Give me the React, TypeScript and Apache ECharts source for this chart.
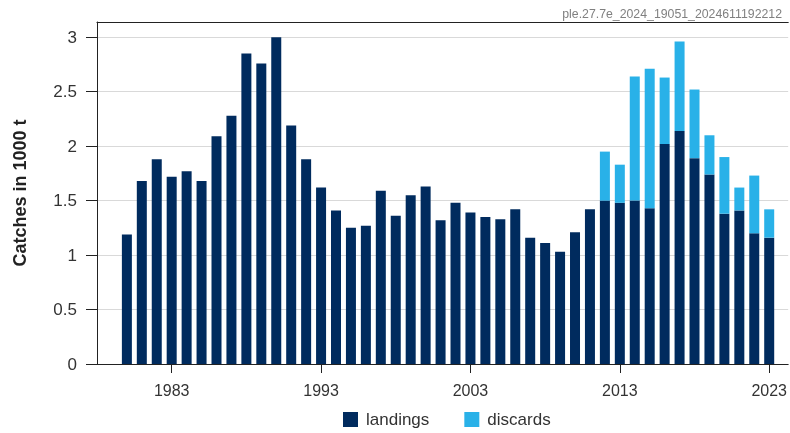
import React, { useEffect, useRef } from "react";
import * as echarts from "echarts";

const years = [
  1980, 1981, 1982, 1983, 1984, 1985, 1986, 1987, 1988, 1989,
  1990, 1991, 1992, 1993, 1994, 1995, 1996, 1997, 1998, 1999,
  2000, 2001, 2002, 2003, 2004, 2005, 2006, 2007, 2008, 2009,
  2010, 2011, 2012, 2013, 2014, 2015, 2016, 2017, 2018, 2019,
  2020, 2021, 2022, 2023,
];

const landings = [
  1.19, 1.68, 1.88, 1.72, 1.77, 1.68, 2.09, 2.28, 2.85, 2.76,
  3.0, 2.19, 1.88, 1.62, 1.41, 1.25, 1.27, 1.59, 1.36, 1.55,
  1.63, 1.32, 1.48, 1.39, 1.35, 1.33, 1.42, 1.16, 1.11, 1.03,
  1.21, 1.42, 1.5, 1.48, 1.5, 1.43, 2.02, 2.14, 1.89, 1.74,
  1.38, 1.41, 1.2, 1.16,
];

const discards: (number | null)[] = [
  null, null, null, null, null, null, null, null, null, null,
  null, null, null, null, null, null, null, null, null, null,
  null, null, null, null, null, null, null, null, null, null,
  null, null, 0.45, 0.35, 1.14, 1.28, 0.61, 0.82, 0.63, 0.36,
  0.52, 0.21, 0.53, 0.26,
];

const xTickYears = [1983, 1993, 2003, 2013, 2023];
const yTicks = [0, 0.5, 1, 1.5, 2, 2.5, 3];
const stamp = "ple.27.7e_2024_19051_2024611192212";

const FONT = "'Liberation Sans', Arial, sans-serif";

export default function App() {
  const ref = useRef<HTMLDivElement>(null);
  useEffect(() => {
    document.body.style.margin = "0";
    const chart = echarts.init(ref.current!, null, { renderer: "svg" });
    const xMin = 1978;
    const xMax = 2024.27;
    chart.setOption({
      animation: false,
      textStyle: { fontFamily: FONT },
      title: {
        text: stamp,
        right: 3,
        top: 3,
        textStyle: { fontSize: 12.3, fontWeight: "normal", color: "#808080", fontFamily: FONT },
      },
      legend: {
        left: 343,
        top: 411,
        padding: 0,
        itemWidth: 15,
        itemHeight: 15,
        itemGap: 35,
        icon: "rect",
        textStyle: { fontSize: 17, color: "#333", padding: [0, 0, 0, 3], fontFamily: FONT },
        data: ["landings", "discards"],
      },
      grid: { left: 97, right: 0, top: 22, bottom: 69, containLabel: false },
      xAxis: [
        {
          type: "value",
          min: xMin,
          max: xMax,
          splitLine: { show: false },
          axisLine: { show: true, onZero: false, lineStyle: { color: "#222", width: 1 } },
          axisTick: { show: true, length: 9, customValues: xTickYears, lineStyle: { color: "#222" } },
          axisLabel: {
            customValues: xTickYears,
            margin: 18,
            fontSize: 16,
            color: "#333",
            fontFamily: FONT,
            formatter: (v: number) => String(v),
          },
        },
        {
          type: "value",
          position: "top",
          min: xMin,
          max: xMax,
          splitLine: { show: false },
          axisLine: { show: true, onZero: false, lineStyle: { color: "#222", width: 1.2 } },
          axisTick: { show: false },
          axisLabel: { show: false },
        },
      ],
      yAxis: {
        type: "value",
        min: 0,
        max: 3.14,
        interval: 0.5,
        name: "Catches in 1000 t",
        nameLocation: "middle",
        nameRotate: 90,
        nameGap: 68,
        nameTextStyle: { fontSize: 18, fontWeight: "bold", color: "#222", fontFamily: FONT },
        axisLine: { show: true, lineStyle: { color: "#222", width: 1 } },
        axisTick: { show: true, length: 11, customValues: yTicks, lineStyle: { color: "#222" } },
        axisLabel: {
          customValues: yTicks,
          margin: 20,
          fontSize: 17,
          color: "#333",
          fontFamily: FONT,
          formatter: (v: number) => String(v),
        },
        splitLine: { show: true, lineStyle: { color: "#d9d9d9", width: 1 } },
      },
      series: [
        {
          name: "landings",
          type: "bar",
          stack: "catch",
          barWidth: 10,
          encode: { x: 1, y: 0 },
          itemStyle: { color: "#002B5E" },
          data: years.map((y, i) => [landings[i], y]),
        },
        {
          name: "discards",
          type: "bar",
          stack: "catch",
          barWidth: 10,
          encode: { x: 1, y: 0 },
          itemStyle: { color: "#29B1E8" },
          data: years.map((y, i) => [discards[i], y]),
        },
      ],
    });
    return () => chart.dispose();
  }, []);
  return (
    <div
      ref={ref}
      style={{ position: "fixed", left: 0, top: 0, width: 790, height: 433 }}
    />
  );
}
